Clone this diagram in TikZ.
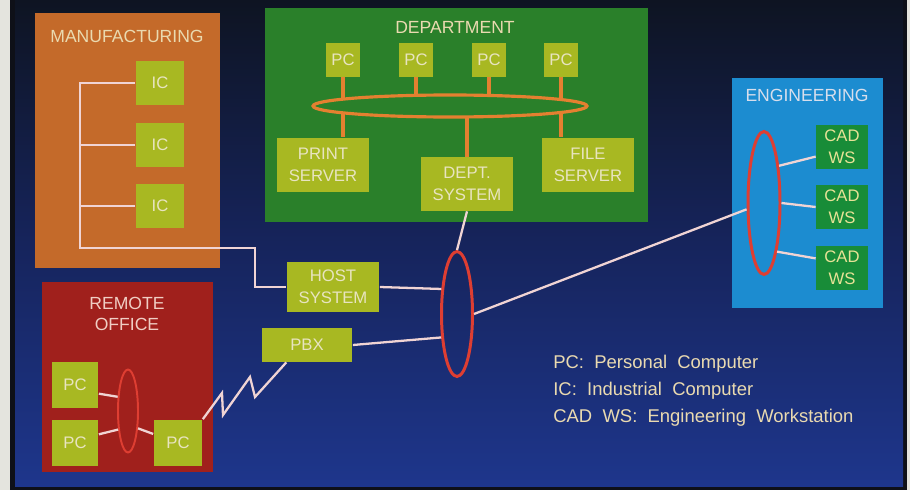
\documentclass[tikz,border=0pt]{standalone}
\usepackage{fontspec}
\setmainfont{Liberation Sans}
\usepackage{xcolor}
\usepackage{tikz}
\usetikzlibrary{shapes.geometric, calc}
\definecolor{paper}{RGB}{228,228,222}
\definecolor{frame}{RGB}{14,16,24}
\definecolor{skytop}{RGB}{14,20,34}
\definecolor{skymid}{RGB}{22,36,92}
\definecolor{skybot}{RGB}{30,54,140}
\definecolor{mfgorange}{RGB}{196,106,42}
\definecolor{deptgreen}{RGB}{42,128,42}
\definecolor{enggblue}{RGB}{28,140,208}
\definecolor{remotered}{RGB}{160,32,28}
\definecolor{boxlime}{RGB}{168,184,34}
\definecolor{cadgreen}{RGB}{24,140,56}
\definecolor{boxtext}{RGB}{232,228,192}
\definecolor{cadtext}{RGB}{232,226,150}
\definecolor{titlecream}{RGB}{234,218,176}
\definecolor{wirepink}{RGB}{240,212,212}
\definecolor{ringred}{RGB}{222,62,50}
\definecolor{busorange}{RGB}{228,128,48}
\tikzstyle{zone} = [rectangle, inner sep=0pt]
\tikzstyle{zonetitle} = [inner sep=0pt, align=center, font=\fontsize{10}{12}\selectfont]
\tikzstyle{unit} = [rectangle, fill=boxlime, text=boxtext, inner sep=0pt, align=center, font=\fontsize{9.5}{12.5}\selectfont]
\tikzstyle{cadunit} = [unit, fill=cadgreen, text=cadtext, minimum width=1.04cm, minimum height=0.9cm]
\tikzstyle{ring} = [ellipse, draw=ringred, line width=1.7pt, inner sep=0pt]
\tikzstyle{wire} = [draw=wirepink, line width=1.3pt]
\tikzstyle{bus} = [draw=busorange, line width=1.8pt]
\tikzstyle{legend} = [anchor=base west, inner sep=0pt, text=titlecream, font=\fontsize{10.5}{12}\selectfont]

\begin{document}
\begin{tikzpicture}[x=0.02cm, y=-0.02cm]
    \useasboundingbox (0,0) rectangle (910,490);
    % Backdrop
    \fill[paper] (0,0) rectangle (910,490);
    \fill[frame] (10,0) rectangle (907,490);
    \shade[top color=skytop, bottom color=skybot, middle color=skymid] (15,0) rectangle (903,486);

    % Zones
    \node[zone, fill=mfgorange, minimum width=3.7cm, minimum height=5.1cm] (mfg) at (127.5,140.5) {};
    \node[zone, fill=deptgreen, minimum width=7.66cm, minimum height=4.28cm] (deptzone) at (456.5,115) {};
    \node[zone, fill=enggblue, minimum width=3.02cm, minimum height=4.6cm] (engg) at (807.5,193) {};
    \node[zone, fill=remotered, minimum width=3.42cm, minimum height=3.8cm] (remote) at (127.5,377) {};

    \node[zonetitle, text=titlecream] (mfglabel) at (127,36) {MANUFACTURING};
    \node[zonetitle, text=titlecream] (deptlabel) at (455,27) {DEPARTMENT};
    \node[zonetitle, text={rgb,255:red,215;green,222;blue,236}] (engglabel) at (807,95) {ENGINEERING};
    \node[zonetitle, text={rgb,255:red,240;green,206;blue,196}] (remotelabel) at (127,314) {REMOTE\\OFFICE};

    % Manufacturing
    \node[unit, minimum width=0.98cm, minimum height=0.9cm] (ic1) at (160,83) {IC};
    \node[unit, minimum width=0.98cm, minimum height=0.9cm] (ic2) at (160,145) {IC};
    \node[unit, minimum width=0.98cm, minimum height=0.9cm] (ic3) at (160,206) {IC};

    % Department
    \foreach \i/\x in {1/343, 2/416, 3/489, 4/561}
        \node[unit, minimum width=0.68cm, minimum height=0.68cm] (pc\i) at (\x,60) {PC};
    \node[unit, minimum width=1.84cm, minimum height=1.1cm] (prt) at (323,165) {PRINT\\SERVER};
    \node[unit, minimum width=1.84cm, minimum height=1.08cm] (dept) at (467,184) {DEPT.\\SYSTEM};
    \node[unit, minimum width=1.86cm, minimum height=1.1cm] (filesrv) at (588,165) {FILE\\SERVER};

    \draw[bus] (pc1.south) -- (pc1.south |- prt.north);
    \draw[bus] (pc2.south) -- ++(0,30);
    \draw[bus] (pc3.south) -- ++(0,30);
    \draw[bus] (pc4.south) -- (pc4.south |- filesrv.north);
    \draw[bus] (dept.north) -- ++(0,-45);
    \node[ellipse, draw=busorange, fill=deptgreen, line width=1.8pt, inner sep=0pt,
          minimum width=5.48cm, minimum height=0.44cm] (deptring) at (450,106) {};

    % Host and PBX
    \node[unit, minimum width=1.86cm, minimum height=1.02cm] (host) at (333,287) {HOST\\SYSTEM};
    \node[unit, minimum width=1.82cm, minimum height=0.68cm] (pbx) at (307,345) {PBX};
    \node[ring, minimum width=0.62cm, minimum height=2.5cm] (core) at (457,314) {};

    % Engineering
    \node[cadunit] (cad1) at (842,147) {CAD\\WS};
    \node[cadunit] (cad2) at (842,207) {CAD\\WS};
    \node[cadunit] (cad3) at (842,268) {CAD\\WS};
    \node[ring, minimum width=0.64cm, minimum height=2.86cm] (ering) at (764,203) {};

    % Remote office
    \node[unit, minimum width=0.94cm, minimum height=0.92cm] (rpc1) at (75,385) {PC};
    \node[unit, minimum width=0.94cm, minimum height=0.92cm] (rpc2) at (75,443) {PC};
    \node[unit, minimum width=0.98cm, minimum height=0.94cm] (rpc3) at (178,443) {PC};
    \node[ring, line width=1.1pt, minimum width=0.4cm, minimum height=1.66cm] (rring) at (128,411) {};

    % Wires
    \coordinate (trunk) at (80,248);
    \coordinate (elbow) at (255,287);
    \draw[wire] (ic1.west) -| (trunk) -| (elbow) -- (host.west);
    \draw[wire] (ic2.west) -- (ic2.west -| trunk);
    \draw[wire] (ic3.west) -- (ic3.west -| trunk);

    \draw[wire] (dept.south) -- (core.north);
    \draw[wire] (host.east) -- (core.122);
    \draw[wire] (pbx.east) -- (core.236);
    \draw[wire] (core.east) -- (ering.200);
    \draw[wire] (ering.68) -- (cad1.200);
    \draw[wire] (ering.east) -- (cad2.west);
    \draw[wire] (ering.-75) -- (cad3.160);

    \draw[wire] (rpc1.-20) -- (rring.126);
    \draw[wire] (rpc2.20) -- (rring.242);
    \draw[wire] (rring.-60) -- (rpc3.160);
    \draw[wire] (rpc3.north east) -- (222,393) -- (223,415) -- (250,377) -- (255,397) -- (pbx.220);

    % Legend
    \node[legend] (legpc) at (553,368) {PC:\ \ Personal\ \ Computer};
    \node[legend] (legic) at (553,395) {IC:\ \ Industrial\ \ Computer};
    \node[legend] (legcad) at (553,422) {CAD\ \ WS:\ \ Engineering\ \ Workstation};
\end{tikzpicture}
\end{document}
